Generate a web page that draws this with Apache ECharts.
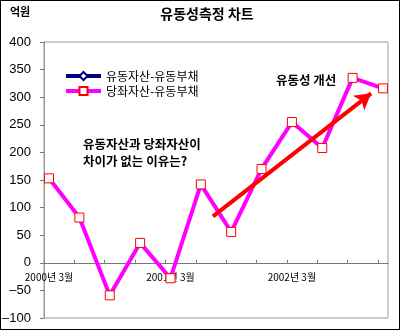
<!DOCTYPE html>
<html>
<head>
<meta charset="utf-8">
<script src="https://cdn.jsdelivr.net/npm/echarts@6/dist/echarts.min.js"></script>
<style>
html,body{margin:0;padding:0;background:#fff;}
#c{position:absolute;left:0;top:0;width:400px;height:330px;}
#frame{position:absolute;left:0;top:0;width:400px;height:330px;box-sizing:border-box;border:1px solid #000;pointer-events:none;}
</style>
</head>
<body>
<div id="c"></div>
<div id="frame"></div>
<script>
// quarterly categories
const categories = ['2000년 3월','2000년 6월','2000년 9월','2000년 12월','2001년 3월','2001년 6월','2001년 9월','2001년 12월','2002년 3월','2002년 6월','2002년 9월','2002년 12월'];
const seriesNames = ['유동자산-유동부채','당좌자산-유동부채'];
const currentNet = [153, 82, -59, 36, -28, 142, 56, 170, 255, 208, 335, 316];
const quickNet   = [153, 82, -59, 36, -28, 142, 56, 170, 255, 208, 335, 316];
const yTicks = [-100, -50, 0, 50, 100, 150, 200, 250, 300, 350, 400];
const labelIndexes = [0, 4, 8];
const trendArrow = [[5.40, 84], [10.61, 307]];
const unitLabel = '억원';
const titleText = '유동성측정 차트';
const noteLines = ['유동자산과 당좌자산이', '차이가 없는 이유는?'];
const trendNote = '유동성 개선';

const pad = 0.165;
const xTickValues = categories.map((c, i) => -pad + i);
const font = '"Noto Sans CJK KR", sans-serif';

const gridTop = 42, gridBottom = 12, chartH = 330;
const yMin = yTicks[0], yMax = yTicks[yTicks.length - 1];
const plotH = chartH - gridTop - gridBottom;
const zeroOffset = -plotH * (0 - yMin) / (yMax - yMin);

const chart = echarts.init(document.getElementById('c'), null, {renderer: 'canvas'});
chart.setOption({
  animation: false,
  backgroundColor: '#fff',
  grid: {left: 44, right: 12, top: gridTop, bottom: gridBottom, show: true, borderColor: '#999', borderWidth: 1,
    backgroundColor: 'transparent', containLabel: false, outerBoundsMode: 'none'},
  legend: {
    orient: 'vertical', left: 59, top: 65, itemWidth: 35, itemHeight: 10, itemGap: 3,
    data: seriesNames,
    lineStyle: {width: 4},
    textStyle: {fontFamily: font, fontSize: 12, lineHeight: 12, color: '#000'}
  },
  xAxis: {
    type: 'value', min: -pad, max: categories.length - 1 + pad, position: 'bottom', offset: zeroOffset,
    axisLine: {show: true, onZero: false, lineStyle: {color: '#777', width: 1}},
    axisTick: {show: true, inside: true, length: 3, customValues: xTickValues, lineStyle: {color: '#777'}},
    axisLabel: {show: true, customValues: labelIndexes, margin: 9, fontSize: 10, fontFamily: font, color: '#000',
      formatter: v => categories[Math.round(v)]},
    splitLine: {show: false}
  },
  yAxis: {
    type: 'value', min: yMin, max: yMax, interval: 50,
    axisLine: {show: true, onZero: false, lineStyle: {color: '#999'}},
    axisTick: {show: true, inside: false, length: 4, lineStyle: {color: '#777'}},
    axisLabel: {margin: 13, fontSize: 13, fontFamily: '"Liberation Sans", Arial, sans-serif', color: '#000',
      formatter: v => v < 0 ? '–' + Math.abs(v) : String(v)},
    splitLine: {show: false}
  },
  series: [
    {
      name: seriesNames[0], type: 'line', z: 2,
      data: currentNet.map((v, i) => [i, v]),
      lineStyle: {color: '#000080', width: 2.5},
      itemStyle: {color: '#fff', borderColor: '#000080', borderWidth: 1},
      symbol: 'diamond', symbolSize: 8, showSymbol: true
    },
    {
      name: seriesNames[1], type: 'line', z: 3,
      data: quickNet.map((v, i) => [i, v]),
      lineStyle: {color: '#ff00ff', width: 4},
      itemStyle: {color: '#fff', borderColor: '#ff0000', borderWidth: 1},
      symbol: 'rect', symbolSize: 9, showSymbol: true
    },
    {
      name: 'arrow', type: 'line', z: 5, data: [],
      markLine: {
        silent: true, symbol: ['none', 'arrow'], symbolSize: [14, 16],
        label: {show: false},
        lineStyle: {color: '#ff0000', width: 4, type: 'solid'},
        data: [[{coord: trendArrow[0]}, {coord: trendArrow[1]}]]
      }
    }
  ],
  graphic: [
    {type: 'text', left: 10, top: 6, style: {text: unitLabel, font: 'bold 11px ' + font, fill: '#000'}},
    {type: 'text', x: 207, y: 7, style: {text: titleText, font: 'bold 14px ' + font, fill: '#000', textAlign: 'center'}},
    {type: 'text', x: 83, y: 136, style: {text: noteLines.join('\n'), font: 'bold 12.5px ' + font, lineHeight: 17, fill: '#000'}},
    {type: 'text', x: 276, y: 74, style: {text: trendNote, font: 'bold 12.5px ' + font, fill: '#000'}}
  ]
});
</script>
</body>
</html>
